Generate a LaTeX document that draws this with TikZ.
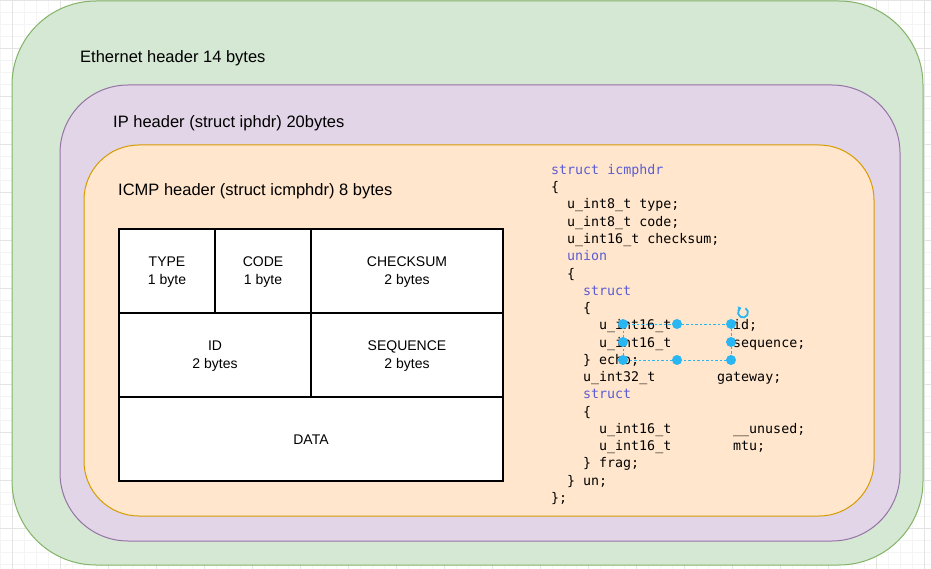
\documentclass[tikz,border=0pt]{standalone}
\usepackage{fontspec}
\setmainfont{Liberation Sans}
\newfontfamily\codefont{DejaVu Sans Mono}
\usetikzlibrary{arrows.meta}
\definecolor{ethfill}{HTML}{D5E8D4}
\definecolor{ethline}{HTML}{82B366}
\definecolor{ipfill}{HTML}{E1D5E7}
\definecolor{ipline}{HTML}{9673A6}
\definecolor{icmpfill}{HTML}{FFE6CC}
\definecolor{icmpline}{HTML}{D79B00}
\definecolor{kwcol}{RGB}{92,92,212}
\definecolor{selcol}{HTML}{29B6F2}
\definecolor{gridminor}{HTML}{F4F4F4}
\definecolor{gridmajor}{HTML}{E4E4E4}
\newcommand{\kw}[1]{\textcolor{kwcol}{#1}}
\begin{document}
\begin{tikzpicture}[x=1pt,y=-1pt,
  container/.style={draw, line width=1pt, inner sep=0pt, outer sep=0pt},
  lbl/.style={anchor=west, inner sep=0pt, font=\fontsize{16.5}{20}\selectfont},
  cell/.style={draw=black, line width=1.2pt, fill=white, inner sep=0pt, outer sep=0pt,
    minimum height=84pt},
  celltext/.style={align=center, inner sep=0pt, font=\fontsize{14}{18}\selectfont},
  code/.style={anchor=base west, inner sep=0pt, font=\fontsize{13.3}{16}\codefont},
  handle/.style={circle, fill=selcol, inner sep=0pt, minimum size=10pt},
  selline/.style={selcol, line width=0.8pt, dash pattern=on 2.5pt off 2pt}]
\fill[white] (0,0) rectangle (931,569);
\useasboundingbox (0,0) rectangle (931,569);
% background grid
\foreach \gx in {0,12,...,930} \draw[gridminor, line width=0.6pt] (\gx,0) -- (\gx,569);
\foreach \gy in {0,12,...,568} \draw[gridminor, line width=0.6pt] (0,\gy) -- (931,\gy);
\foreach \gx in {12,60,...,930} \draw[gridmajor, line width=0.6pt] (\gx,0) -- (\gx,569);
\foreach \gy in {0,48,...,568} \draw[gridmajor, line width=0.6pt] (0,\gy) -- (931,\gy);

% nested containers
\node[container, draw=ethline, fill=ethfill, rounded corners=84pt,
  minimum width=911pt, minimum height=564pt] (eth) at (467.5,283) {};
\node[container, draw=ipline, fill=ipfill, rounded corners=68pt,
  minimum width=840pt, minimum height=456pt] (ip) at (480,313) {};
\node[container, draw=icmpline, fill=icmpfill, rounded corners=55pt,
  minimum width=790pt, minimum height=371pt] (icmp) at (479,330.5) {};

\node[lbl] (ethlbl) at (80,58.5) {Ethernet header 14 bytes};
\node[lbl] (iplbl) at (113,123.5) {IP header (struct iphdr) 20bytes};
\node[lbl] (icmplbl) at (118,191.5) {ICMP header (struct icmphdr) 8 bytes};

% ICMP header table
\node[cell, minimum width=96pt] (type) at (167,271) {};
\node[cell, minimum width=96pt] (codef) at (263,271) {};
\node[cell, minimum width=192pt] (checksum) at (407,271) {};
\node[cell, minimum width=192pt] (id) at (215,355) {};
\node[cell, minimum width=192pt] (seq) at (407,355) {};
\node[cell, minimum width=384pt] (data) at (311,439) {};
\node[celltext] (typet) at (167,272.5) {TYPE\\1 byte};
\node[celltext] (codet) at (263,272.5) {CODE\\1 byte};
\node[celltext] (checksumt) at (407,272.5) {CHECKSUM\\2 bytes};
\node[celltext] (idt) at (215,356.5) {ID\\2 bytes};
\node[celltext] (seqt) at (407,356.5) {SEQUENCE\\2 bytes};
\node[celltext] (datat) at (311,439.5) {DATA};

% struct icmphdr code
\node[code] (l1) at (551,174.5) {\kw{struct icmphdr}};
\node[code] (l2) at (551,191.8) {\{};
\node[code] (l3) at (567,209.0) {u\_int8\_t type;};
\node[code] (l4) at (567,226.3) {u\_int8\_t code;};
\node[code] (l5) at (567,243.5) {u\_int16\_t checksum;};
\node[code] (l6) at (567,260.8) {\kw{union}};
\node[code] (l7) at (567,278.1) {\{};
\node[code] (l8) at (583,295.3) {\kw{struct}};
\node[code] (l9) at (583,312.6) {\{};
\node[code] (l10) at (599,329.8) {u\_int16\_t};
\node[code] (l10b) at (733,329.8) {id;};
\node[code] (l11) at (599,347.1) {u\_int16\_t};
\node[code] (l11b) at (733,347.1) {sequence;};
\node[code] (l12) at (583,364.4) {\} echo;};
\node[code] (l13) at (583,381.6) {u\_int32\_t};
\node[code] (l13b) at (717,381.6) {gateway;};
\node[code] (l14) at (583,398.9) {\kw{struct}};
\node[code] (l15) at (583,416.1) {\{};
\node[code] (l16) at (599,433.4) {u\_int16\_t};
\node[code] (l16b) at (733,433.4) {\_\_unused;};
\node[code] (l17) at (599,450.7) {u\_int16\_t};
\node[code] (l17b) at (733,450.7) {mtu;};
\node[code] (l18) at (583,467.9) {\} frag;};
\node[code] (l19) at (567,485.2) {\} un;};
\node[code] (l20) at (551,502.4) {\};};

% selection overlay
\coordinate (s1) at (623,324);
\coordinate (s3) at (731,324);
\coordinate (s6) at (623,360);
\coordinate (s8) at (731,360);
\draw[selline] (s1) -- (s3) -- (s8) -- (s6) -- cycle;
\node[handle] (h1) at (623,324) {};
\node[handle] (h2) at (677,324) {};
\node[handle] (h3) at (731,324) {};
\node[handle] (h4) at (623,342) {};
\node[handle] (h5) at (731,342) {};
\node[handle] (h6) at (623,360) {};
\node[handle] (h7) at (677,360) {};
\node[handle] (h8) at (731,360) {};
\coordinate (rot) at (743,312.5);
\draw[selcol, line width=1.8pt, -{Triangle[length=3pt,width=5pt]}]
  ([shift={(60:5pt)}]rot) arc[start angle=60, end angle=-250, radius=5pt];
\end{tikzpicture}
\end{document}
